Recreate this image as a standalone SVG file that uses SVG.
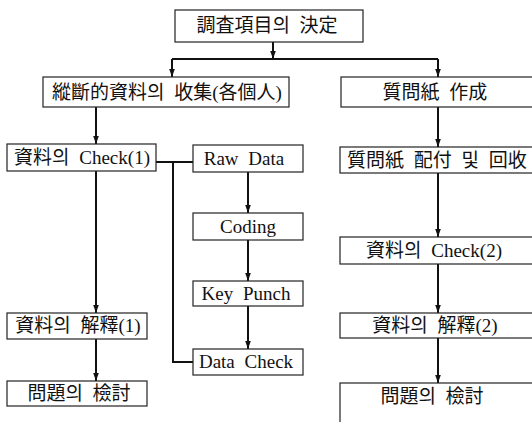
<svg xmlns="http://www.w3.org/2000/svg" width="532" height="422" viewBox="0 0 532 422">
  <style>
    .box { fill: #ffffff; stroke: #222; stroke-width: 1.2; }
    .lbl { font-family: "Liberation Serif", "Noto Sans CJK KR", serif; font-size: 19px; fill: #111; text-anchor: middle; word-spacing: 5px; }
    .edge { fill: none; stroke: #111; stroke-width: 2; }
  </style>
  <defs>
    <marker id="tip" markerUnits="userSpaceOnUse" markerWidth="8" markerHeight="8" viewBox="0 0 8 8" refX="8" refY="4" orient="auto">
      <path d="M0,1.2 L8,4 L0,6.8 Z" fill="#111"/>
    </marker>
  </defs>

  <rect width="532" height="422" fill="#ffffff"/>

  <!-- connectors -->
  <g id="connectors" class="edge">
    <path d="M273,42 V59" marker-end="url(#tip)"/>
    <path d="M172,59 H438"/>
    <path d="M172,59 V77" marker-end="url(#tip)"/>
    <path d="M438,59 V77" marker-end="url(#tip)"/>
    <!-- left column -->
    <path d="M96,107 V144" marker-end="url(#tip)"/>
    <path d="M96,171 V313" marker-end="url(#tip)"/>
    <path d="M96,339 V381" marker-end="url(#tip)"/>
    <!-- data processing branch -->
    <path d="M156,162 H193"/>
    <path d="M173,162 V362 H193"/>
    <path d="M248,172 V213" marker-end="url(#tip)"/>
    <path d="M248,240 V281" marker-end="url(#tip)"/>
    <path d="M248,306 V349" marker-end="url(#tip)"/>
    <!-- right column -->
    <path d="M438,107 V147" marker-end="url(#tip)"/>
    <path d="M438,173 V237" marker-end="url(#tip)"/>
    <path d="M438,264 V313" marker-end="url(#tip)"/>
    <path d="M438,338 V383" marker-end="url(#tip)"/>
  </g>

  <g id="decide">
    <rect class="box" x="175" y="10" width="188" height="32"/>
    <text class="lbl" x="267" y="32">調査項目의 決定</text>
  </g>

  <g id="collect">
    <rect class="box" x="43" y="77" width="246" height="30"/>
    <text class="lbl" x="167" y="99">縱斷的資料의 收集(各個人)</text>
  </g>

  <g id="questionnaire">
    <rect class="box" x="341" y="77" width="200" height="30"/>
    <text class="lbl" x="435" y="99">質問紙 作成</text>
  </g>

  <g id="check1">
    <rect class="box" x="7" y="144" width="149" height="27"/>
    <text class="lbl" x="82" y="164">資料의 Check(1)</text>
  </g>

  <g id="rawdata">
    <rect class="box" x="193" y="145" width="110" height="27"/>
    <text class="lbl" x="244" y="165">Raw Data</text>
  </g>

  <g id="coding">
    <rect class="box" x="193" y="213" width="110" height="27"/>
    <text class="lbl" x="248" y="233">Coding</text>
  </g>

  <g id="keypunch">
    <rect class="box" x="193" y="281" width="110" height="25"/>
    <text class="lbl" x="246" y="300">Key Punch</text>
  </g>

  <g id="datacheck">
    <rect class="box" x="193" y="349" width="110" height="26"/>
    <text class="lbl" x="246" y="368">Data Check</text>
  </g>

  <g id="interpret1">
    <rect class="box" x="7" y="313" width="140" height="26"/>
    <text class="lbl" x="78" y="332">資料의 解釋(1)</text>
  </g>

  <g id="review1">
    <rect class="box" x="7" y="381" width="140" height="25"/>
    <text class="lbl" x="79" y="400">問題의 檢討</text>
  </g>

  <g id="distribute">
    <rect class="box" x="340" y="147" width="200" height="26"/>
    <text class="lbl" x="347" y="167" style="text-anchor:start">質問紙 配付 및 回收</text>
  </g>

  <g id="check2">
    <rect class="box" x="340" y="237" width="200" height="27"/>
    <text class="lbl" x="434" y="257">資料의 Check(2)</text>
  </g>

  <g id="interpret2">
    <rect class="box" x="340" y="313" width="200" height="25"/>
    <text class="lbl" x="435" y="332">資料의 解釋(2)</text>
  </g>

  <g id="review2">
    <rect class="box" x="340" y="383" width="200" height="50"/>
    <text class="lbl" x="432" y="403">問題의 檢討</text>
  </g>
</svg>
